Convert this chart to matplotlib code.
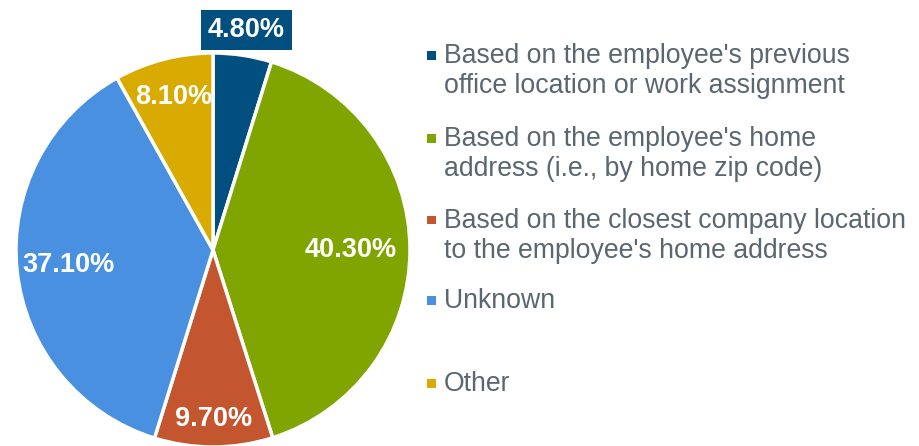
import matplotlib
matplotlib.use("Agg")
import matplotlib.pyplot as plt
import numpy as np
from matplotlib.patches import Rectangle

plt.rcParams['font.family'] = ['Liberation Sans', 'DejaVu Sans']

categories = [
    "Based on the employee's previous\noffice location or work assignment",
    "Based on the employee's home\naddress (i.e., by home zip code)",
    "Based on the closest company location\nto the employee's home address",
    "Unknown",
    "Other",
]
values = [4.8, 40.3, 9.7, 37.1, 8.1]
value_labels = ["4.80%", "40.30%", "9.70%", "37.10%", "8.10%"]
colors = ["#004F7F", "#80A500", "#C4562F", "#4A90E0", "#D9AA00"]
label_radius = [1.13, 0.70, 0.86, 0.74, 0.80]

W, H = 920, 446
fig = plt.figure(figsize=(W / 100, H / 100), dpi=100)

cx, cy, R = 213, 250, 197
ax = fig.add_axes([(cx - R) / W, (H - cy - R) / H, 2 * R / W, 2 * R / H])
wedges, _ = ax.pie(values, colors=colors, startangle=90, counterclock=False,
                   wedgeprops=dict(edgecolor="white", linewidth=2.5))
ax.set_xlim(-1, 1)
ax.set_ylim(-1, 1)
ax.set_aspect("equal")
ax.axis("off")

for w, lab, r, col in zip(wedges, value_labels, label_radius, colors):
    ang = np.deg2rad((w.theta1 + w.theta2) / 2)
    x, y = r * np.cos(ang), r * np.sin(ang)
    kw = {}
    if r > 1:
        kw["bbox"] = dict(boxstyle="square,pad=0.25", facecolor=col, edgecolor="none")
    ax.text(x, y, lab, ha="center", va="center", color="white",
            fontsize=19.5, fontweight="bold", clip_on=False, **kw)

# Legend
text_color = "#5A6670"
entry_tops = [55, 138, 220, 300, 383]
line_gap = 30
for lab, col, y0 in zip(categories, colors, entry_tops):
    fig.patches.append(Rectangle(((427) / W, 1 - (y0 + 4.5) / H), 9 / W, 9 / H,
                                 transform=fig.transFigure, facecolor=col,
                                 edgecolor="none"))
    for k, line in enumerate(lab.split("\n")):
        fig.text(444 / W, 1 - (y0 + 1 + k * line_gap) / H, line, ha="left",
                 va="center", fontsize=19.2, color=text_color)

fig.savefig("out.png", dpi=100)
